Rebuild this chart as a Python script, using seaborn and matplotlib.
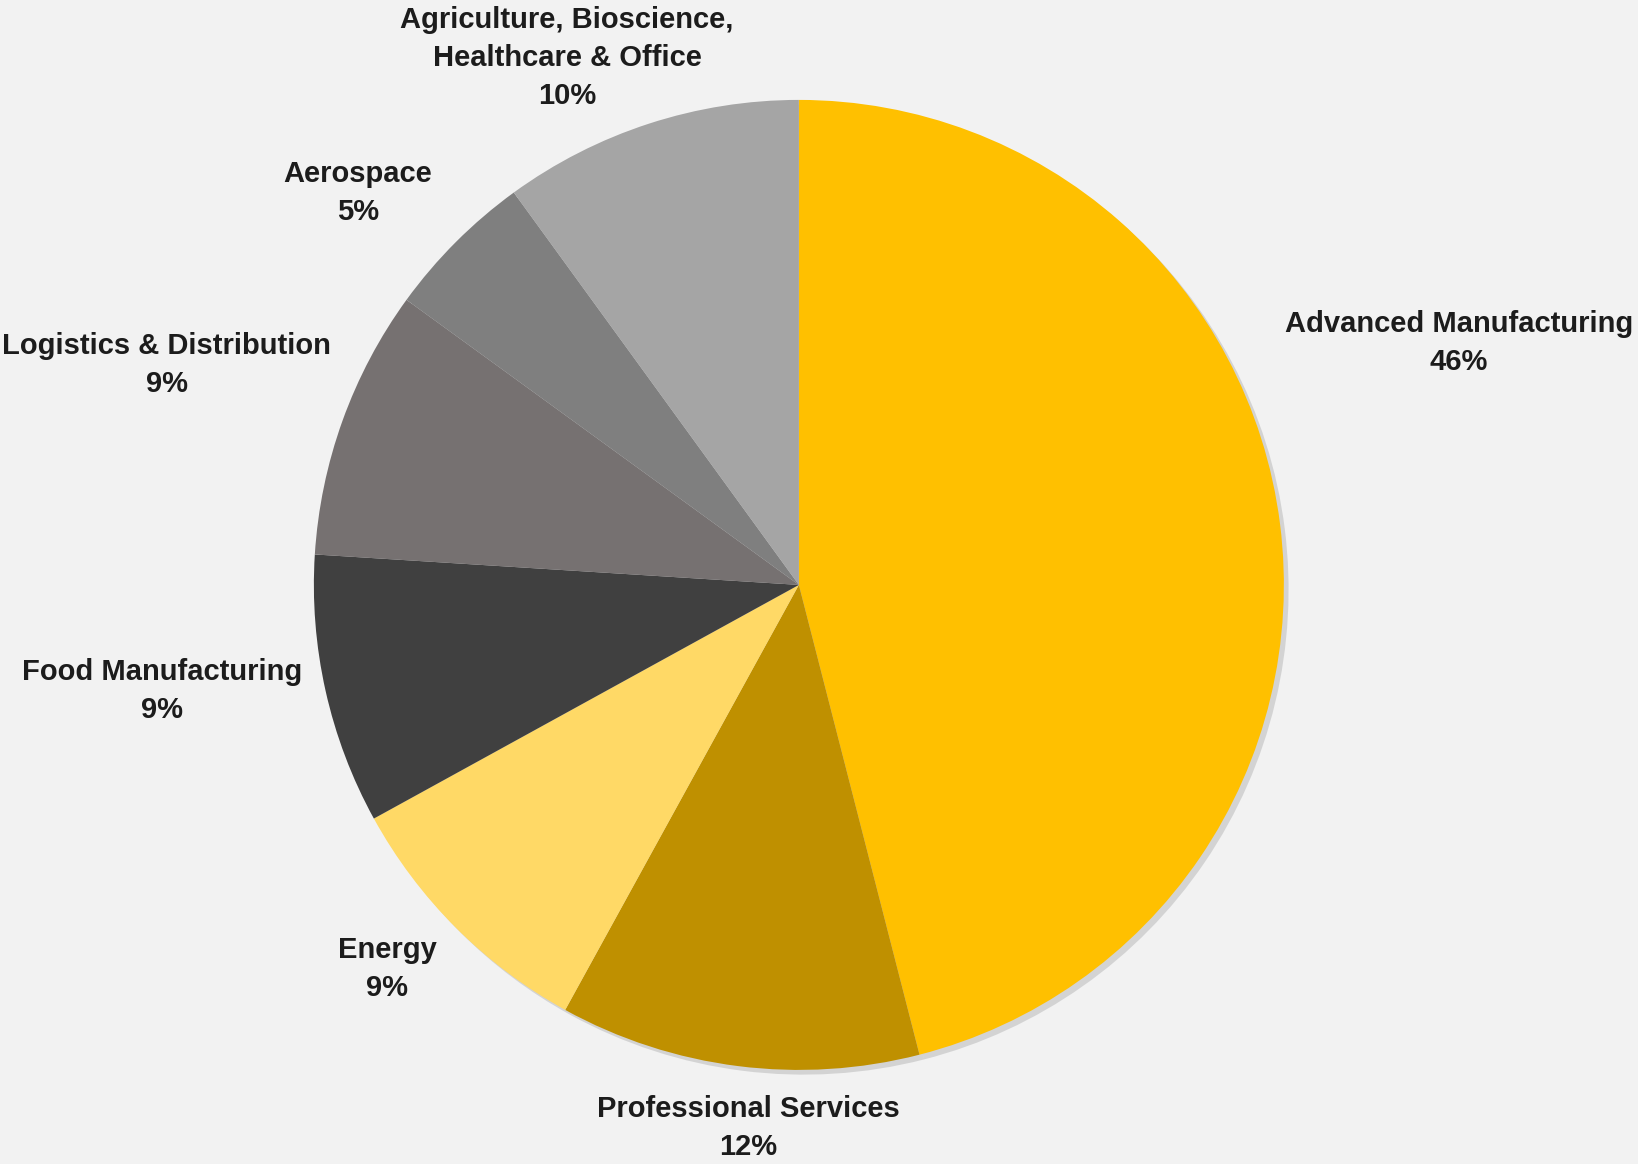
import matplotlib
matplotlib.use("Agg")
import matplotlib.pyplot as plt
from matplotlib import font_manager
import seaborn as sns

sectors = ["Advanced Manufacturing", "Professional Services", "Energy",
           "Food Manufacturing", "Logistics & Distribution", "Aerospace",
           "Agriculture, Bioscience,\nHealthcare & Office"]
shares = [46, 12, 9, 9, 9, 5, 10]
colors = ["#FFC000", "#BF9000", "#FFD966", "#404040", "#767171", "#7F7F7F", "#A5A5A5"]

# where each label block sits (data units, pie radius = 1)
label_pos = [(1.361, 0.499), (-0.105, -1.120), (-0.849, -0.792), (-1.313, -0.219),
             (-1.303, 0.454), (-0.909, 0.808), (-0.478, 1.087)]

sns.set_theme(style="white")
names = {f.name for f in font_manager.fontManager.ttflist}
fam = ["Liberation Sans Narrow", "Liberation Sans", "DejaVu Sans"]
fam = [f for f in fam if f in names] or ["DejaVu Sans"]
plt.rcParams["font.family"] = fam
narrow = "Liberation Sans Narrow" in names

bg = "#F2F2F2"
fig = plt.figure(figsize=(16.38, 11.64), dpi=100, facecolor=bg)
ax = fig.add_axes([0, 0, 1, 1])
ax.set_facecolor(bg)

wedges, _ = ax.pie(shares, colors=colors, startangle=90, counterclock=False,
                   radius=1.0, wedgeprops=dict(linewidth=0),
                   shadow=dict(ox=0.007, oy=-0.007, facecolor="#9a9a9a",
                               edgecolor="none", alpha=0.35))

fs = 23 if narrow else 21
ls = 1.18 if narrow else 1.45
for name, val, (x, y) in zip(sectors, shares, label_pos):
    ax.text(x, y, f"{name}\n{val}%", ha="center", va="center",
            fontsize=fs, fontweight="bold", color="#1C1C1C", linespacing=ls)

ax.set_xlim(-1.647, 1.730)
ax.set_ylim(-1.194, 1.206)
ax.set_aspect("equal", adjustable="box")
ax.axis("off")

fig.savefig("out.png", dpi=100, facecolor=bg)
